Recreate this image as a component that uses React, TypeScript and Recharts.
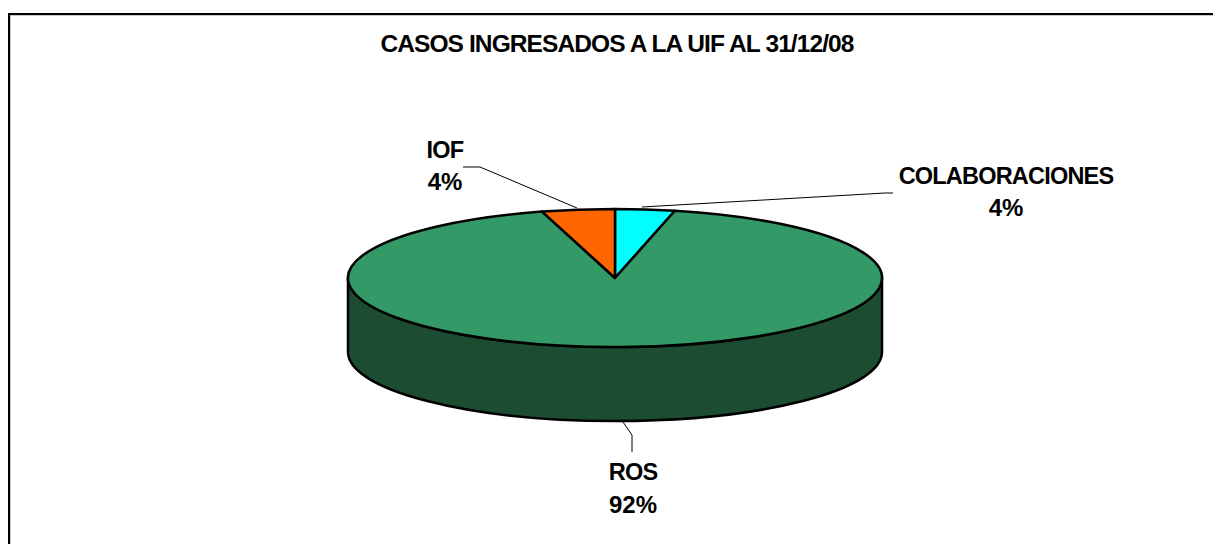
import { Pie, PieChart } from "recharts";

const FONT = '"Liberation Sans", Arial, sans-serif';

const categories = ["COLABORACIONES", "ROS", "IOF"];
const shares = [3.6, 92, 4.4];
const topColors = ["#00FFFF", "#339966", "#FF6600"];
const wallColors = ["#008080", "#1C4D33", "#7F3300"];
const title = "CASOS INGRESADOS A LA UIF AL 31/12/08";

const data = categories.map((name, i) => ({ name, value: shares[i] }));
const topData = data.map((d, i) => ({ ...d, fill: topColors[i] }));
const wallData = data.map((d, i) => ({ ...d, fill: wallColors[i] }));

// 3D look: the pie is flattened to an ellipse, the wall hangs below it
const FLATTEN = 69 / 267;
const DEPTH = 74;

const LABEL_SPOTS: Record<string, any> = {
  IOF: { x: 445, y1: 158, y2: 190, line: "463,167 480,167 577,208" },
  COLABORACIONES: { x: 1006, y1: 184, y2: 216, line: "642,207 885,193 893,193" },
  ROS: { x: 633, y1: 480, y2: 513, line: "623,422 632,435 632,452" },
};

const pointOn = (cx: number, cy: number, r: number, deg: number) => {
  const a = (deg * Math.PI) / 180;
  return [cx + r * Math.cos(a), cy - r * FLATTEN * Math.sin(a)];
};

function TopSlice(props: any) {
  const { cx, cy, outerRadius: r, startAngle, endAngle, fill } = props;
  const [x0, y0] = pointOn(cx, cy, r, startAngle);
  const [x1, y1] = pointOn(cx, cy, r, endAngle);
  const large = Math.abs(endAngle - startAngle) > 180 ? 1 : 0;
  const d = `M${cx},${cy} L${x0},${y0} A${r},${r * FLATTEN} 0 ${large} 1 ${x1},${y1} Z`;
  return <path d={d} fill={fill} stroke="#000" strokeWidth={2.5} strokeLinejoin="round" />;
}

function WallSlice(props: any) {
  const { cx, cy, outerRadius: r, startAngle, endAngle, fill } = props;
  // only the front half of the rim can be seen (0deg to -180deg)
  const from = Math.min(startAngle, 0);
  const to = Math.max(endAngle, -180);
  if (from <= to) return <g />;
  const ry = r * FLATTEN;
  const [x0, y0] = pointOn(cx, cy, r, from);
  const [x1, y1] = pointOn(cx, cy, r, to);
  const d = `M${x0},${y0} A${r},${ry} 0 0 1 ${x1},${y1} L${x1},${y1 + DEPTH} A${r},${ry} 0 0 0 ${x0},${y0 + DEPTH} Z`;
  return <path d={d} fill={fill} stroke="#000" strokeWidth={2.5} strokeLinejoin="round" />;
}

function SliceLabel(props: any) {
  const spot = LABEL_SPOTS[props.name];
  const nameStyle = { fontFamily: FONT, fontWeight: 700, fontSize: 23.5, letterSpacing: -0.8, fill: "#000" };
  const pctStyle = { ...nameStyle, fontSize: 24, letterSpacing: 0 };
  return (
    <g>
      <polyline points={spot.line} fill="none" stroke="#000" strokeWidth={1} />
      <text x={spot.x} y={spot.y1} textAnchor="middle" style={nameStyle}>{props.name}</text>
      <text x={spot.x} y={spot.y2} textAnchor="middle" style={pctStyle}>{`${Math.round(props.percent * 100)}%`}</text>
    </g>
  );
}

export default function App() {
  return (
    <div style={{ position: "absolute", left: 0, top: 0, width: 1213, height: 544, overflow: "hidden", background: "#fff" }}>
      <div
        style={{
          position: "absolute", left: 8, top: 13, width: 1300, height: 600,
          borderLeft: "2px solid #000", borderTop: "2px solid #000",
          boxShadow: "inset 1px 1px 0 #c8c8c8",
        }}
      />
      <div style={{ position: "absolute", left: 0, top: 0 }}>
        <PieChart width={1213} height={544} margin={{ top: 0, right: 0, bottom: 0, left: 0 }}>
          <text x={617} y={52} textAnchor="middle" style={{ fontFamily: FONT, fontWeight: 700, fontSize: 24.5, letterSpacing: -0.9, fill: "#000" }}>
            {title}
          </text>
          <Pie
            data={wallData}
            dataKey="value"
            nameKey="name"
            cx={615}
            cy={278}
            innerRadius={0}
            outerRadius={267}
            startAngle={90}
            endAngle={-270}
            stroke="none"
            shape={WallSlice}
            labelLine={false}
            isAnimationActive={false}
          />
          <Pie
            data={topData}
            dataKey="value"
            nameKey="name"
            cx={615}
            cy={278}
            innerRadius={0}
            outerRadius={267}
            startAngle={90}
            endAngle={-270}
            stroke="none"
            shape={TopSlice}
            label={SliceLabel}
            labelLine={false}
            isAnimationActive={false}
          />
        </PieChart>
      </div>
    </div>
  );
}
